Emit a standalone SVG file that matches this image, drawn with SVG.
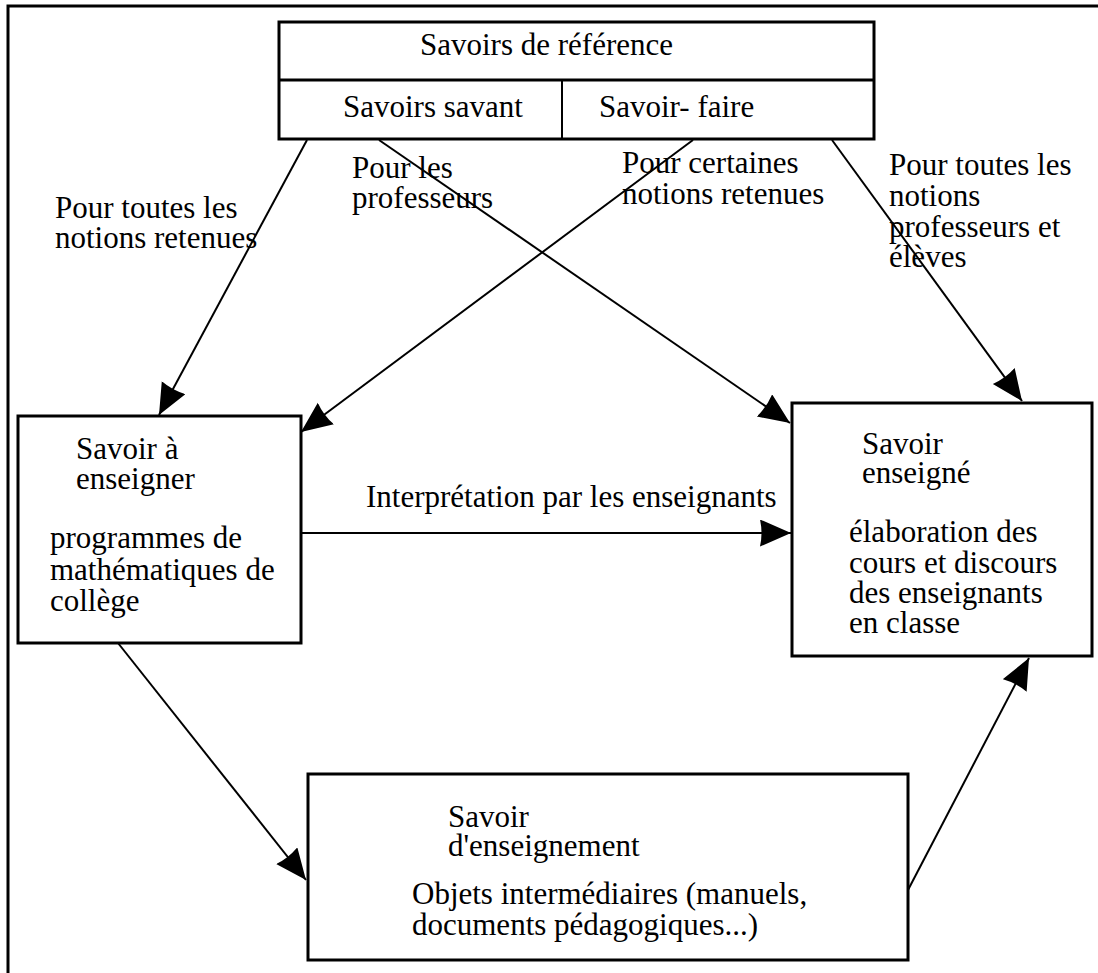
<svg xmlns="http://www.w3.org/2000/svg" width="1098" height="973" viewBox="0 0 1098 973">
<style>
text{font-family:"Liberation Serif","Times New Roman",serif;font-size:31px;fill:#000}
.box{fill:#fff;stroke:#000;stroke-width:3}
.edge{stroke:#000;stroke-width:2;fill:none;marker-end:url(#ah)}
</style>
<defs>
<marker id="ah" markerUnits="userSpaceOnUse" markerWidth="34" markerHeight="30" refX="31" refY="13.5" orient="auto">
<path d="M0,0 L31,13.5 L0,27 Q3,13.5 0,0 z" fill="#000"/>
</marker>
</defs>
<rect width="1098" height="973" fill="#fff"/>
<g id="frame"><path d="M8,973 L8,6 L1098,6" fill="none" stroke="#000" stroke-width="3"/></g>
<g id="connectors">
<line class="edge" x1="307" y1="140" x2="159" y2="415"/>
<line class="edge" x1="379" y1="140" x2="790" y2="423"/>
<line class="edge" x1="693" y1="140" x2="301" y2="432"/>
<line class="edge" x1="832" y1="140" x2="1022" y2="401"/>
<line class="edge" x1="301" y1="533" x2="791" y2="533"/>
<line class="edge" x1="118" y1="643" x2="306" y2="880"/>
<line class="edge" x1="908" y1="890" x2="1029" y2="658"/>
</g>
<g id="labels">
<text x="55" y="218">Pour toutes les</text>
<text x="55" y="248">notions retenues</text>
<text x="352" y="178">Pour les</text>
<text x="352" y="208">professeurs</text>
<text x="622" y="173">Pour certaines</text>
<text x="622" y="204">notions retenues</text>
<text x="889" y="175">Pour toutes les</text>
<text x="889" y="206">notions</text>
<text x="889" y="237">professeurs et</text>
<text x="889" y="267">élèves</text>
<text x="366" y="507">Interprétation par les enseignants</text>
</g>
<g id="savoirs-reference">
<rect class="box" x="279" y="22" width="595" height="117"/>
<line x1="279" y1="80" x2="874" y2="80" stroke="#000" stroke-width="3"/>
<line x1="562" y1="80" x2="562" y2="139" stroke="#000" stroke-width="2"/>
<text x="420" y="55">Savoirs de référence</text>
<text x="343" y="117">Savoirs savant</text>
<text x="599" y="117">Savoir- faire</text>
</g>
<g id="savoir-a-enseigner">
<rect class="box" x="18" y="416" width="283" height="227"/>
<text x="76" y="459">Savoir à</text>
<text x="76" y="489">enseigner</text>
<text x="50" y="548">programmes de</text>
<text x="50" y="580">mathématiques de</text>
<text x="50" y="611">collège</text>
</g>
<g id="savoir-enseigne">
<rect class="box" x="792" y="403" width="300" height="253"/>
<text x="862" y="454">Savoir</text>
<text x="862" y="483">enseigné</text>
<text x="849" y="542">élaboration des</text>
<text x="849" y="573">cours et discours</text>
<text x="849" y="603">des enseignants</text>
<text x="849" y="633">en classe</text>
</g>
<g id="savoir-enseignement">
<rect class="box" x="308" y="774" width="600" height="186"/>
<text x="448" y="827">Savoir</text>
<text x="448" y="856">d'enseignement</text>
<text x="412" y="904">Objets intermédiaires (manuels,</text>
<text x="412" y="935">documents pédagogiques...)</text>
</g>
</svg>
